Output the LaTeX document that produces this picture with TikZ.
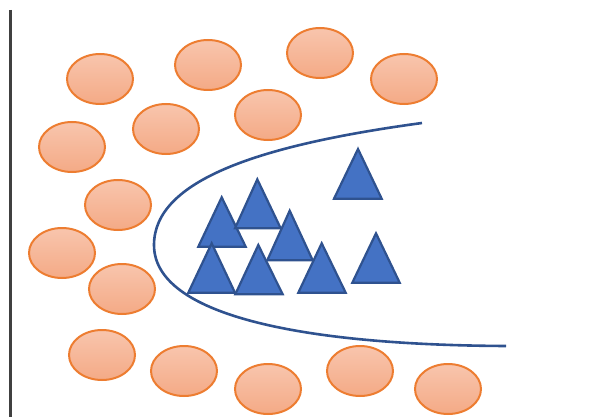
\documentclass[tikz,border=0pt]{standalone}
\usetikzlibrary{shapes.geometric}
\begin{document}
\begin{tikzpicture}[x=1pt,y=-1pt]
\definecolor{otop}{HTML}{F8C5AD}
\definecolor{obot}{HTML}{F4AA86}
\definecolor{oline}{HTML}{ED7D31}
\definecolor{tfill}{HTML}{4472C4}
\definecolor{tline}{HTML}{2F528F}
\definecolor{axiscol}{HTML}{404040}
\tikzset{
  blob/.style={ellipse, minimum width=66pt, minimum height=50pt, inner sep=0pt, draw=oline, line width=2pt, top color=otop, bottom color=obot},
  tri/.style={fill=tfill, draw=tline, line width=2.2pt, line join=miter},
  bound/.style={draw=tline, line width=2.6pt}
}
\useasboundingbox (0,0) rectangle (605,417);
\coordinate (a1) at (10.5,10);
\coordinate (a2) at (10.5,417);
\draw[axiscol, line width=2.8pt] (a1) -- (a2);
\foreach \n/\x/\y in {e1/100/79, e2/208/65, e3/320/53, e4/404/79, e5/72/147, e6/166/129, e7/268/115, e8/118/205, e9/62/253, e10/122/289, e11/102/355, e12/184/371, e13/268/389, e14/360/371, e15/448/389}
  \node[blob] (\n) at (\x,\y) {};
\foreach \ax/\ay/\by/\lx/\rx in {221.7/197.3/246.7/198.3/245.7, 257.3/179.3/228.3/235/280.7, 289.7/210.7/260.3/267.3/312.7, 358/149/198.7/334/381.7, 211.7/243.3/292.7/188.3/235, 258.3/245/294.3/235.3/282.7, 321.7/243.3/292.7/298.3/345.7, 376/233.3/282.7/352.3/399.7}
  \draw[tri] (\ax,\ay) -- (\rx,\by) -- (\lx,\by) -- cycle;
\coordinate (c1) at (422,123);
\coordinate (c2) at (154,245);
\coordinate (c3) at (506,346);
\draw[bound] (c1) .. controls (260,145) and (154,180) .. (c2) .. controls (154,315) and (300,345) .. (c3);
\end{tikzpicture}
\end{document}
